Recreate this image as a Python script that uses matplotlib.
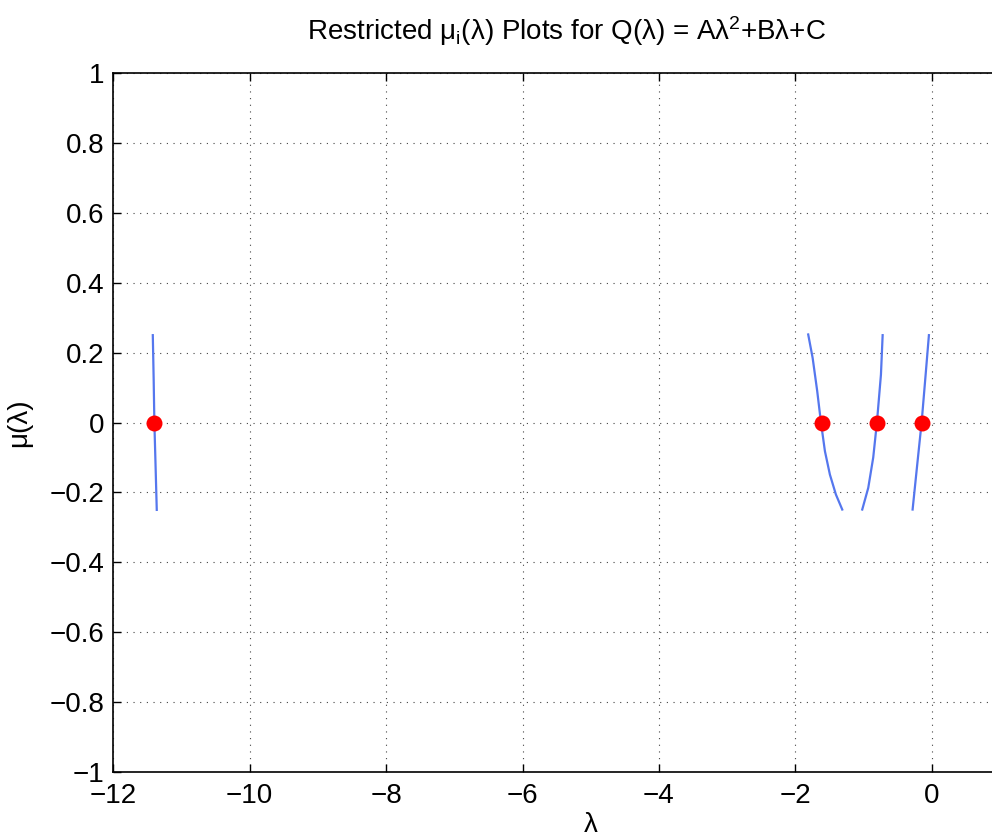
import matplotlib
matplotlib.use("Agg")
import matplotlib.pyplot as plt

# --- Data ---
# each branch: lambda values and mu values along the traced curve
branch1_lam = [-11.418, -11.405, -11.395, -11.378, -11.36]
branch1_mu = [0.25, 0.12, 0.0, -0.12, -0.25]

branch2_lam = [-1.813, -1.748, -1.681, -1.626, -1.568, -1.495, -1.407, -1.314]
branch2_mu = [0.252, 0.185, 0.090, 0.0, -0.082, -0.149, -0.206, -0.249]

branch3_lam = [-0.722, -0.747, -0.806, -0.860, -0.933, -1.021]
branch3_mu = [0.25, 0.137, 0.0, -0.10, -0.187, -0.249]

branch4_lam = [-0.044, -0.092, -0.151, -0.215, -0.283]
branch4_mu = [0.25, 0.137, 0.0, -0.12, -0.249]

eig_lam = [-11.395, -1.616, -0.80, -0.146]
eig_mu = [0, 0, 0, 0]

x_ticks = [-12, -10, -8, -6, -4, -2, 0]
y_ticks = [-1, -0.8, -0.6, -0.4, -0.2, 0, 0.2, 0.4, 0.6, 0.8, 1]

plt.rcParams["font.family"] = ["Liberation Sans", "DejaVu Sans"]

fig = plt.figure(figsize=(9.92, 8.38), dpi=100)
# axes run past the right edge of the figure (reference is cropped)
ax = fig.add_axes([0.114, 0.0788, 0.963, 0.834])

line_color = "#5577ee"
for lam, mu in [(branch1_lam, branch1_mu), (branch2_lam, branch2_mu),
                (branch3_lam, branch3_mu), (branch4_lam, branch4_mu)]:
    ax.plot(lam, mu, color=line_color, lw=1.6, solid_joinstyle="round")

ax.plot(eig_lam, eig_mu, "o", color="red", markersize=11.5, markeredgewidth=0)

ax.set_xlim(-12, 2)
ax.set_ylim(-1, 1)
ax.set_xticks(x_ticks)
ax.set_yticks(y_ticks)
ax.set_xticklabels([f"{t:g}".replace("-", "\u2212") for t in x_ticks])
ax.set_yticklabels([f"{t:g}".replace("-", "\u2212") for t in y_ticks])

ax.grid(True, linestyle=(0, (1, 5)), color="#444444", lw=0.8)
ax.tick_params(direction="in", length=6, width=1, labelsize=20, top=True, right=True)
ax.tick_params(axis="x", pad=8)
ax.tick_params(axis="y", pad=6)
for sp in ax.spines.values():
    sp.set_linewidth(1.2)

ax.set_xlabel("\u03bb", fontsize=20, labelpad=2)
ax.set_ylabel("\u03bc(\u03bb)", fontsize=20, labelpad=13)
ax.set_title(r"Restricted $\mathregular{\mu_i}$($\mathregular{\lambda}$) Plots for Q($\mathregular{\lambda}$) = A$\mathregular{\lambda^2}$+B$\mathregular{\lambda}$+C",
             fontsize=20, pad=24)
# title sits a little left of the (cropped) axes centre
ax.title.set_x(0.475)

fig.savefig("out.png", dpi=100)
